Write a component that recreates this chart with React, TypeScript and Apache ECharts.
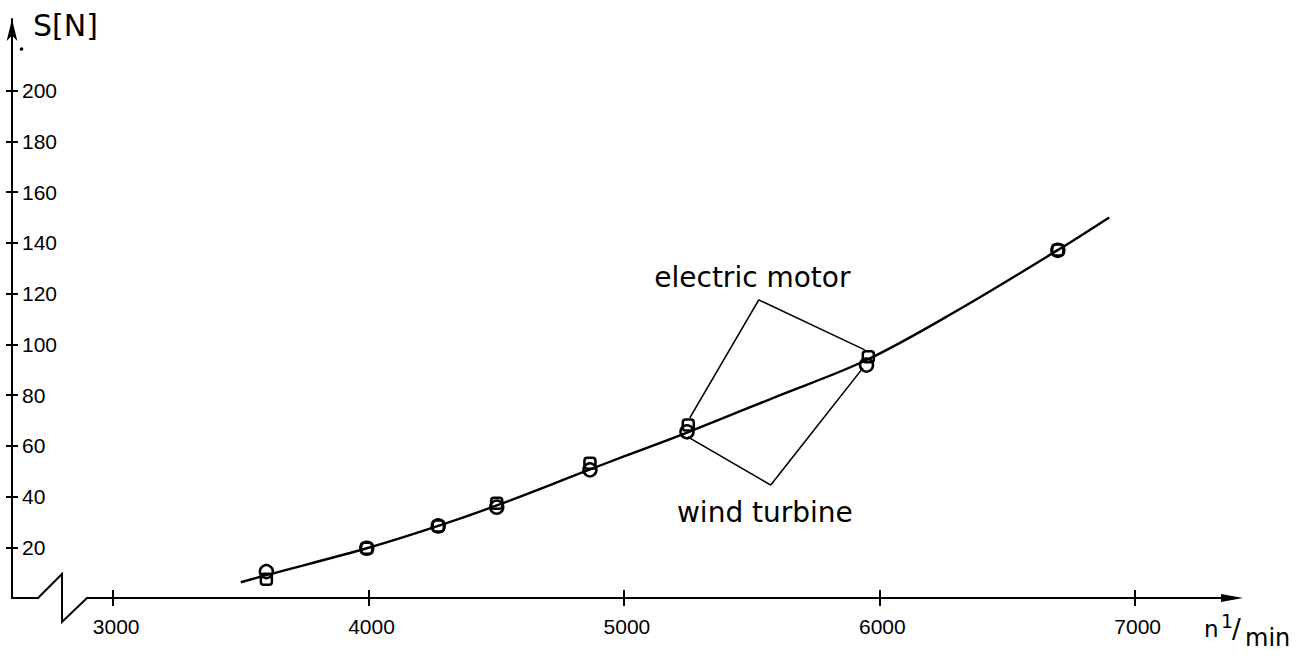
import React, { useEffect, useRef } from "react";
import * as echarts from "echarts";

// Axis ticks / labels
const xTicks = [3000, 4000, 5000, 6000, 7000];
const yTicks = [20, 40, 60, 80, 100, 120, 140, 160, 180, 200];

// Measured points: electric motor (squares)
const motorSpeeds = [3600, 3993, 4273, 4502, 4867, 5252, 5957, 6699];
const motorForce = [7.4, 19.6, 28.4, 37.3, 53.1, 68.2, 95.1, 137.2];

// Measured points: wind turbine (circles)
const turbineSpeeds = [3600, 3993, 4273, 4502, 4867, 5247, 5950, 6699];
const turbineForce = [10.4, 19.6, 28.4, 35.8, 50.5, 65.5, 91.8, 137.0];

// Fitted curve
const curveSpeeds = [3500, 3600, 4000, 4270, 4500, 4860, 5000, 5250, 5600, 5950, 6300, 6700, 6900];
const curveForce = [6.2, 9.0, 19.8, 28.3, 36.4, 50.4, 55.8, 65.3, 79.5, 93.8, 113, 137.2, 150];

// Leader lines for annotations
const motorLeaderSpeeds = [5258, 5528, 5943];
const motorLeaderForce = [71, 117.5, 97.8];
const turbineLeaderSpeeds = [5250, 5575, 5936];
const turbineLeaderForce = [63.5, 44.5, 90.7];

// Annotation labels
const labelNames = ["electric motor", "wind turbine"];
const labelSpeeds = [5503, 5552];
const labelForce = [126.3, 33.6];

const X_MIN = 2604;
const X_MAX = 7381;
const Y_MIN = 0;
const Y_MAX = 228.2;

const pairs = (xs: number[], ys: number[]) => xs.map((x, i) => [x, ys[i]]);

export default function App() {
  const ref = useRef<HTMLDivElement>(null);

  useEffect(() => {
    if (!ref.current) return;
    const chart = echarts.init(ref.current, undefined, { renderer: "svg" });
    const black = "#000";
    const tickFont = "'Liberation Sans', Arial, sans-serif";
    const textFont = "'DejaVu Sans', sans-serif";
    const axisLineStyle = { color: black, width: 2 };

    const option: any = {
      animation: false,
      backgroundColor: "#fff",
      grid: { left: 12, right: 68, top: 19, bottom: 58, containLabel: false },
      xAxis: [
        {
          type: "value",
          position: "bottom",
          min: X_MIN,
          max: X_MAX,
          axisLine: {
            show: true,
            onZero: false,
            lineStyle: axisLineStyle,
            symbol: ["none", "triangle"],
            symbolSize: [8, 22],
          },
          axisTick: { show: true, inside: false, length: 8, customValues: xTicks, lineStyle: axisLineStyle },
          axisLabel: {
            show: true,
            customValues: xTicks,
            formatter: (v: number) => String(v),
            margin: 18,
            fontFamily: tickFont,
            fontSize: 21,
            color: black,
            padding: [0, 0, 0, 6],
          },
          splitLine: { show: false },
        },
        {
          type: "value",
          position: "bottom",
          min: X_MIN,
          max: X_MAX,
          axisLine: { show: false },
          axisTick: { show: true, inside: true, length: 8, customValues: xTicks, lineStyle: axisLineStyle },
          axisLabel: { show: false },
          splitLine: { show: false },
        },
      ],
      yAxis: [
        {
          type: "value",
          position: "left",
          min: Y_MIN,
          max: Y_MAX,
          axisLine: {
            show: true,
            onZero: false,
            lineStyle: axisLineStyle,
            symbol: ["none", "arrow"],
            symbolSize: [8, 22],
          },
          axisTick: { show: true, inside: true, length: 6, customValues: yTicks, lineStyle: axisLineStyle },
          axisLabel: {
            show: true,
            inside: true,
            customValues: yTicks,
            formatter: (v: number) => String(v),
            margin: 10,
            fontFamily: tickFont,
            fontSize: 21,
            color: black,
          },
          splitLine: { show: false },
        },
        {
          type: "value",
          position: "left",
          min: Y_MIN,
          max: Y_MAX,
          axisLine: { show: false },
          axisTick: { show: true, inside: false, length: 6, customValues: yTicks, lineStyle: axisLineStyle },
          axisLabel: { show: false },
          splitLine: { show: false },
        },
      ],
      series: [
        {
          type: "line",
          name: "curve",
          data: pairs(curveSpeeds, curveForce),
          smooth: 0.35,
          showSymbol: false,
          symbol: "none",
          lineStyle: { color: black, width: 2.4 },
          z: 2,
        },
        {
          type: "line",
          name: "motor leader",
          data: pairs(motorLeaderSpeeds, motorLeaderForce),
          showSymbol: false,
          symbol: "none",
          lineStyle: { color: black, width: 1.6 },
          z: 2,
        },
        {
          type: "line",
          name: "turbine leader",
          data: pairs(turbineLeaderSpeeds, turbineLeaderForce),
          showSymbol: false,
          symbol: "none",
          lineStyle: { color: black, width: 1.6 },
          z: 2,
        },
        {
          type: "scatter",
          name: "electric motor",
          data: pairs(motorSpeeds, motorForce),
          symbol: "roundRect",
          symbolSize: 11,
          itemStyle: { color: "transparent", borderColor: black, borderWidth: 2.5, opacity: 1 },
          z: 3,
        },
        {
          type: "scatter",
          name: "wind turbine",
          data: pairs(turbineSpeeds, turbineForce),
          symbol: "circle",
          symbolSize: 13,
          itemStyle: { color: "transparent", borderColor: black, borderWidth: 2.5, opacity: 1 },
          z: 3,
        },
        {
          type: "scatter",
          name: "labels",
          data: labelNames.map((name, i) => ({ name, value: [labelSpeeds[i], labelForce[i]] })),
          symbol: "circle",
          symbolSize: 1,
          itemStyle: { color: "transparent", opacity: 1 },
          label: {
            show: true,
            position: "inside",
            formatter: (p: any) => p.name,
            fontFamily: textFont,
            fontSize: 28,
            fontWeight: "normal",
            color: black,
            opacity: 1,
            textBorderWidth: 0,
          },
          z: 4,
        },
      ],
      graphic: [
        {
          type: "rect",
          z: 100,
          shape: { x: 39, y: 593, width: 47, height: 10 },
          style: { fill: "#fff" },
        },
        {
          type: "polyline",
          z: 101,
          shape: { points: [[38, 598], [62, 574], [62, 622], [87, 598]] },
          style: { stroke: black, lineWidth: 2, fill: "none" },
        },
        {
          type: "circle",
          z: 101,
          shape: { cx: 21.5, cy: 49, r: 1.8 },
          style: { fill: black },
        },
        {
          type: "text",
          z: 101,
          style: {
            text: "S[N]",
            x: 33,
            y: 25,
            verticalAlign: "middle",
            align: "left",
            font: `normal 30px ${textFont}`,
            fill: black,
          },
        },
        {
          type: "text",
          z: 101,
          style: { text: "n", x: 1204, y: 629, verticalAlign: "middle", align: "left", font: `normal 23px ${textFont}`, fill: black },
        },
        {
          type: "text",
          z: 101,
          style: { text: "1", x: 1221, y: 621, verticalAlign: "middle", align: "left", font: `normal 19px ${textFont}`, fill: black },
        },
        {
          type: "text",
          z: 101,
          style: { text: "/", x: 1232, y: 629, verticalAlign: "middle", align: "left", font: `normal 26px ${textFont}`, fill: black },
        },
        {
          type: "text",
          z: 101,
          style: { text: "min", x: 1245, y: 638, verticalAlign: "middle", align: "left", font: `normal 24px ${textFont}`, fill: black },
        },
      ],
    };

    chart.setOption(option);
    return () => chart.dispose();
  }, []);

  return (
    <div
      ref={ref}
      style={{ position: "absolute", left: 0, top: 0, width: 1300, height: 656, background: "#fff" }}
    />
  );
}
